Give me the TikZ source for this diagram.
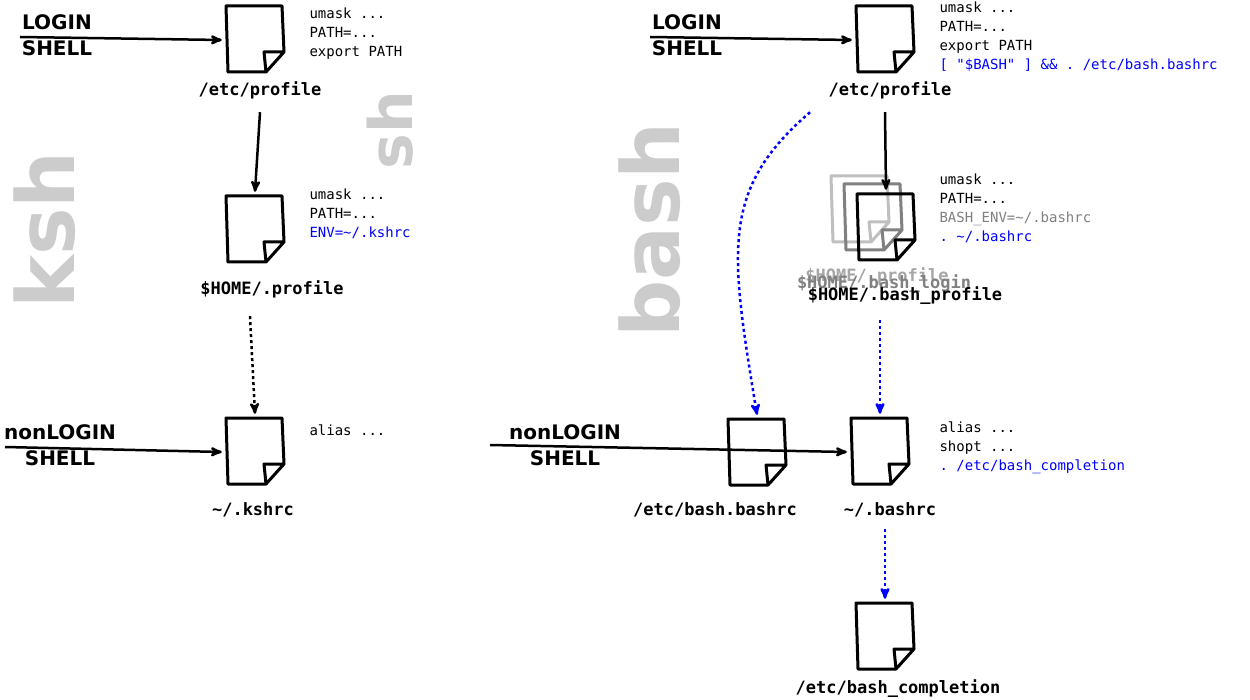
\documentclass[tikz,border=0pt]{standalone}
\usepackage{fontspec}
\setmainfont{DejaVu Sans}
\setmonofont{DejaVu Sans Mono}
\usetikzlibrary{arrows,positioning}

\tikzset{
  doc/.style={minimum width=66pt,minimum height=76pt,inner sep=0pt,
    path picture={\draw[line width=3pt,line cap=round,line join=round,#1]
      ([xshift=4pt,yshift=-4pt]path picture bounding box.north west) -- ([xshift=-6pt,yshift=-4pt]path picture bounding box.north east)
      -- ([xshift=-4pt,yshift=26pt]path picture bounding box.south east)
      -- ([xshift=-22pt,yshift=6pt]path picture bounding box.south east)
      -- ([xshift=6pt,yshift=6pt]path picture bounding box.south west) -- cycle
      ([xshift=-4pt,yshift=26pt]path picture bounding box.south east) -- ([xshift=-24pt,yshift=26pt]path picture bounding box.south east)
      -- ([xshift=-22pt,yshift=6pt]path picture bounding box.south east);}},
  doc/.default=black,
  fname/.style={font=\ttfamily\bfseries\fontsize{17}{17}\selectfont},
  conf/.style={font=\ttfamily\fontsize{14}{19}\selectfont,align=left,anchor=west},
  shell/.style={font=\bfseries\fontsize{20}{26}\selectfont,align=center},
  big/.style={font=\bfseries\fontsize{80}{80}\selectfont,text=black!20,rotate=90},
  flow/.style={->,>=stealth',line width=2.5pt},
}

\begin{document}
\begin{tikzpicture}[x=1pt,y=-1pt]
  \useasboundingbox (0,0) rectangle (1250,700);
  % shell names
  \node[big] (ksh) at (45,230) {ksh};
  \node[big,font=\bfseries\fontsize{60}{60}\selectfont] (sh) at (390,130) {sh};
  \node[big] (bash) at (650,230) {bash};

  % ksh / sh
  \node[doc] (kprof) at (255,40) {};
  \node[fname] (kprofl) at (260,90) {/etc/profile};
  \node[conf] at (306,34) {umask ...\\PATH=...\\export PATH};
  \node[doc] (khome) at (255,230) {};
  \node[fname] (khomel) at (272,289) {\$HOME/.profile};
  \node[conf] at (306,214) {umask ...\\PATH=...\\\textcolor{blue}{ENV=\textasciitilde/.kshrc}};
  \node[doc] (kshrc) at (255,452) {};
  \node[fname] (kshrcl) at (253,510) {\textasciitilde/.kshrc};
  \node[conf] at (306,430) {alias ...};

  \node[shell] (klogin) at (57,35) {LOGIN\\SHELL};
  \node[shell] (knon) at (60,445) {nonLOGIN\\SHELL};
  \coordinate (kin1) at (20,37);
  \coordinate (kin2) at (5,447);
  \draw[flow] (kin1) -- (kprof.west);
  \draw[flow] (kin2) -- (kshrc.west);
  \draw[flow] (kprofl.south) ++(0,10) -- (khome.north);
  \draw[flow,dashed] (khomel.south) ++(-22,15) -- (kshrc.north);

  % bash
  \node[doc] (bprof) at (885,40) {};
  \node[fname] (bprofl) at (890,90) {/etc/profile};
  \node[conf] at (936,37) {umask ...\\PATH=...\\export PATH\\\textcolor{blue}{[ "\$BASH" ] \&\& . /etc/bash.bashrc}};
  \node[doc=black!25] (blogin) at (860,210) {};
  \node[doc=black!50] (bprofile) at (873,218) {};
  \node[doc] (bbprof) at (886,228) {};
  \node[fname,text=black!35] at (877,276) {\$HOME/.profile};
  \node[fname,text=black!50] at (884,284) {\$HOME/.bash\_login};
  \node[fname] (bbprofl) at (905,296) {\$HOME/.bash\_profile};
  \node[conf] at (936,208) {umask ...\\PATH=...\\\textcolor{black!50}{BASH\_ENV=\textasciitilde/.bashrc}\\\textcolor{blue}{. \textasciitilde/.bashrc}};
  \node[doc] (bbash) at (757,453) {};
  \node[fname] (bbashl) at (715,510) {/etc/bash.bashrc};
  \node[doc] (brc) at (880,452) {};
  \node[fname] (brcl) at (890,510) {\textasciitilde/.bashrc};
  \node[conf] at (936,448) {alias ...\\shopt ...\\\textcolor{blue}{. /etc/bash\_completion}};
  \node[doc] (bcomp) at (885,637) {};
  \node[fname] (bcompl) at (898,689) {/etc/bash\_completion};

  \node[shell] (bloginl) at (687,35) {LOGIN\\SHELL};
  \node[shell] (bnon) at (565,445) {nonLOGIN\\SHELL};
  \coordinate (bin1) at (650,37);
  \coordinate (bin2) at (490,445);
  \draw[flow] (bin1) -- (bprof.west);
  \draw[flow] (bin2) -- (brc.west);
  \draw[flow] (bprofl.south) ++(-5,10) -- (bbprof.north);
  \draw[flow,dashed,blue] (bprofl.south) ++(-80,10) .. controls (720,190) and (730,250) .. (bbash.north);
  \draw[flow,dashed,blue] (bbprofl.south) ++(-25,12) -- (brc.north);
  \draw[flow,dashed,blue] (brcl.south) ++(-5,8) -- (bcomp.north);
\end{tikzpicture}
\end{document}
